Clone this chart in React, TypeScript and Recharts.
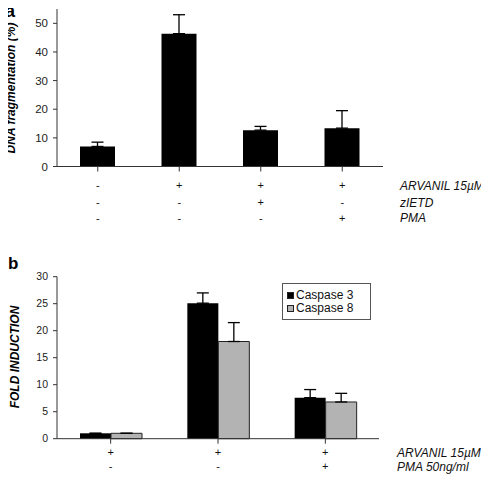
import { Bar, BarChart, ErrorBar, Legend, XAxis, YAxis } from "recharts";

// panel a: DNA fragmentation
const conditionsA = ["c1", "c2", "c3", "c4"];
const arvanilA = ["-", "+", "+", "+"];
const zietdA = ["-", "-", "+", "-"];
const pmaA = ["-", "-", "-", "+"];
const fragmentation = [7.0, 46.4, 12.7, 13.4];
const fragmentationErr = [1.5, 6.6, 1.3, 6.1];
const ticksA = [0, 10, 20, 30, 40, 50];

// panel b: caspase fold induction
const conditionsB = ["c1", "c2", "c3"];
const arvanilB = ["+", "+", "+"];
const pmaB = ["-", "-", "+"];
const caspase3 = [1.0, 25.1, 7.6];
const caspase3Err = [0, 1.9, 1.5];
const caspase8 = [1.0, 18.0, 6.8];
const caspase8Err = [0, 3.5, 1.6];
const ticksB = [0, 5, 10, 15, 20, 25, 30];

const FONT = "'Liberation Sans', Arial, sans-serif";

const dataA = conditionsA.map((name, i) => ({
  name,
  value: fragmentation[i],
  err: [0, fragmentationErr[i]],
}));

const dataB = conditionsB.map((name, i) => ({
  name,
  c3: caspase3[i],
  c3err: [0, caspase3Err[i]],
  c8: caspase8[i],
  c8err: [0, caspase8Err[i]],
}));

function SignTick({ x, y, index, rows, offsets }: any) {
  return (
    <g>
      {rows.map((row: string[], r: number) => (
        <text
          key={r}
          x={x}
          y={y + offsets[r]}
          textAnchor="middle"
          dominantBaseline="central"
          fontSize={11}
          style={{ fontFamily: FONT }}
          fill="#111"
        >
          {row[index]}
        </text>
      ))}
    </g>
  );
}

function CaspaseLegend() {
  const items = [
    { label: "Caspase 3", fill: "#000" },
    { label: "Caspase 8", fill: "#b3b3b3" },
  ];
  return (
    <div
      style={{
        border: "1px solid #555",
        background: "#fff",
        width: 87,
        height: 35,
        fontFamily: FONT,
        fontSize: 12,
        lineHeight: "13px",
        color: "#111",
      }}
    >
      {items.map((it, i) => (
        <div key={it.label} style={{ display: "flex", alignItems: "center", height: 13, marginTop: i === 0 ? 5 : 0 }}>
          <span
            style={{
              display: "inline-block",
              width: 5,
              height: 5,
              marginLeft: 4,
              marginRight: 2,
              background: it.fill,
              border: "1px solid #222",
            }}
          />
          <span>{it.label}</span>
        </div>
      ))}
    </div>
  );
}

export default function App() {
  const axisTick = { fontSize: 11.5, fill: "#222", fontFamily: FONT };
  return (
    <div
      style={{
        position: "relative",
        width: 489,
        height: 484,
        margin: "-8px 0 0 -8px",
        background: "#fff",
        fontFamily: FONT,
      }}
    >
      <div style={{ position: "absolute", left: 0, top: 0 }}>
        <BarChart width={489} height={240} data={dataA} margin={{ top: 9, right: 106, bottom: 0, left: 0 }} barSize={35}>
          <XAxis
            dataKey="name"
            height={73.5}
            axisLine={{ stroke: "#333" }}
            tickLine={{ stroke: "#333" }}
            tickSize={5}
            interval={0}
            tick={<SignTick rows={[arvanilA, zietdA, pmaA]} offsets={[11, 28, 44]} />}
          />
          <YAxis
            width={57}
            domain={[0, 55]}
            ticks={ticksA}
            axisLine={{ stroke: "#333" }}
            tickLine={{ stroke: "#333" }}
            tickSize={4}
            tickMargin={5}
            tick={axisTick}
          />
          <Bar dataKey="value" fill="#000" isAnimationActive={false}>
            <ErrorBar dataKey="err" width={6} stroke="#000" strokeWidth={1.3} isAnimationActive={false} />
          </Bar>
        </BarChart>
      </div>

      <div style={{ position: "absolute", left: 0, top: 250 }}>
        <BarChart
          width={489}
          height={234}
          data={dataB}
          margin={{ top: 26.7, right: 110, bottom: 0, left: 0 }}
          barSize={31}
          barGap={0}
        >
          <XAxis
            dataKey="name"
            height={45.3}
            axisLine={{ stroke: "#333" }}
            tickLine={{ stroke: "#333" }}
            tickSize={5}
            interval={0}
            tick={<SignTick rows={[arvanilB, pmaB]} offsets={[6.5, 20.5]} />}
          />
          <YAxis
            width={57}
            domain={[0, 30]}
            ticks={ticksB}
            axisLine={{ stroke: "#333" }}
            tickLine={{ stroke: "#333" }}
            tickSize={4}
            tickMargin={5}
            tick={{ ...axisTick, fontSize: 10.5 }}
          />
          <Legend
            layout="horizontal"
            align="center"
            verticalAlign="middle"
            content={<CaspaseLegend />}
            wrapperStyle={{ position: "absolute", left: 282, top: 33, width: 89, height: 37 }}
          />
          <Bar dataKey="c3" name="Caspase 3" fill="#000" isAnimationActive={false}>
            <ErrorBar dataKey="c3err" width={6} stroke="#000" strokeWidth={1.3} isAnimationActive={false} />
          </Bar>
          <Bar dataKey="c8" name="Caspase 8" fill="#b3b3b3" stroke="#222" strokeWidth={1} isAnimationActive={false}>
            <ErrorBar dataKey="c8err" width={6} stroke="#000" strokeWidth={1.3} isAnimationActive={false} />
          </Bar>
        </BarChart>
      </div>

      <svg
        width={489}
        height={484}
        style={{ position: "absolute", left: 0, top: 0, pointerEvents: "none", fontFamily: FONT }}
      >
        <text x={5} y={17} fontSize={18} fontWeight="bold" fill="#000">a</text>
        <text x={8} y={269} fontSize={17} fontWeight="bold" fill="#000">b</text>
        <text
          transform="translate(11,88) rotate(-90)"
          textAnchor="middle"
          dominantBaseline="central"
          fontSize={12}
          fontWeight="bold"
          fontStyle="italic"
          fill="#000"
        >
          DNA fragmentation (%)
        </text>
        <text
          transform="translate(15,357) rotate(-90)"
          textAnchor="middle"
          dominantBaseline="central"
          fontSize={12}
          fontWeight="bold"
          fontStyle="italic"
          fill="#000"
        >
          FOLD INDUCTION
        </text>
        <g fontSize={12} fontStyle="italic" fill="#111" dominantBaseline="central">
          <text x={400} y={186}>ARVANIL 15µM</text>
          <text x={400} y={203}>zIETD</text>
          <text x={400} y={218}>PMA</text>
          <text x={397} y={453}>ARVANIL 15µM</text>
          <text x={397} y={467}>PMA 50ng/ml</text>
        </g>
      </svg>
    </div>
  );
}
